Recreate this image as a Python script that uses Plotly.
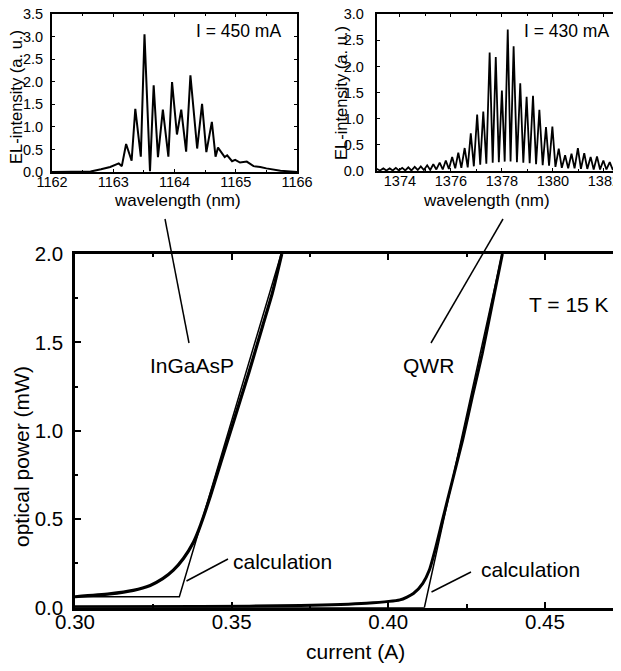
import plotly.graph_objects as go

W, H = 621, 671
# the page body has an 8 px default margin; positions below are given in
# window pixels and converted to figure paper coordinates with this offset
OX, OY = 8, 8
FONT = "Liberation Sans, Arial, Helvetica, sans-serif"

# ---------------- data ----------------
# Inset 1: InGaAsP spectrum at I = 450 mA
ingaasp_wl = [1162.0, 1162.5, 1162.63, 1162.8, 1162.95, 1163.09, 1163.14, 1163.21, 1163.30,
              1163.36, 1163.45, 1163.51, 1163.60, 1163.66, 1163.73, 1163.81, 1163.90,
              1163.96, 1164.04, 1164.11, 1164.19, 1164.26, 1164.37, 1164.45, 1164.52,
              1164.61, 1164.67, 1164.71, 1164.82, 1164.86, 1164.94, 1164.99, 1165.07,
              1165.18, 1165.29, 1165.40, 1165.50, 1165.73, 1166.0]
ingaasp_int = [0.0, 0.0, 0.01, 0.06, 0.11, 0.19, 0.13, 0.62, 0.25,
               1.40, 0.34, 3.05, 0.02, 1.92, 0.33, 1.38, 0.34,
               1.99, 0.83, 1.38, 0.45, 2.14, 0.52, 1.51, 0.44,
               1.11, 0.34, 0.54, 0.33, 0.37, 0.24, 0.27, 0.21,
               0.23, 0.13, 0.11, 0.08, 0.03, 0.0]

# Inset 2: QWR spectrum at I = 430 mA (peaks and valleys)
qwr_wl = [1373.00, 1373.10, 1373.22, 1373.35, 1373.47, 1373.60, 1373.72, 1373.84, 1373.96,
          1374.09, 1374.21, 1374.33, 1374.45, 1374.58, 1374.70, 1374.82, 1374.94,
          1375.07, 1375.19, 1375.31, 1375.43, 1375.56, 1375.68, 1375.80, 1375.92,
          1376.05, 1376.17, 1376.29, 1376.41, 1376.54, 1376.66, 1376.78, 1376.90,
          1377.03, 1377.15, 1377.27, 1377.39, 1377.52, 1377.64, 1377.76, 1377.88,
          1378.00, 1378.11, 1378.23, 1378.34, 1378.46, 1378.59, 1378.72, 1378.84,
          1378.97, 1379.09, 1379.22, 1379.34, 1379.47, 1379.60, 1379.73, 1379.85,
          1379.98, 1380.10, 1380.23, 1380.35, 1380.48, 1380.60, 1380.73, 1380.85,
          1380.98, 1381.10, 1381.23, 1381.35, 1381.48, 1381.60, 1381.73, 1381.85,
          1381.98, 1382.10, 1382.23, 1382.35, 1382.47, 1382.60, 1382.72, 1382.85]
qwr_int = [0.01, 0.04, 0.01, 0.05, 0.01, 0.05, 0.01, 0.06, 0.01,
           0.06, 0.01, 0.07, 0.01, 0.08, 0.02, 0.09, 0.02,
           0.11, 0.02, 0.13, 0.03, 0.16, 0.03, 0.20, 0.04,
           0.27, 0.05, 0.35, 0.06, 0.44, 0.07, 0.72, 0.09,
           1.08, 0.12, 1.14, 0.14, 2.27, 0.16, 2.18, 0.17,
           1.54, 0.18, 2.71, 0.18, 2.39, 0.17, 1.68, 0.16,
           1.42, 0.15, 1.44, 0.13, 1.17, 0.11, 0.84, 0.10,
           0.85, 0.08, 0.43, 0.06, 0.30, 0.05, 0.33, 0.05,
           0.44, 0.04, 0.34, 0.04, 0.27, 0.03, 0.28, 0.03,
           0.20, 0.03, 0.17, 0.02, 0.15, 0.02, 0.12, 0.02]

# Main panel: light-current characteristics at T = 15 K
ingaasp_meas_I = [0.300, 0.311, 0.3186, 0.324, 0.328, 0.3314, 0.3346, 0.3378, 0.3395,
                  0.343, 0.3465, 0.3511, 0.3555, 0.3600, 0.3630, 0.3660]
ingaasp_meas_P = [0.062, 0.078, 0.098, 0.126, 0.164, 0.212, 0.278, 0.37, 0.44,
                  0.62, 0.82, 1.08, 1.33, 1.60, 1.78, 2.00]
ingaasp_calc_I = [0.300, 0.3333, 0.3658]
ingaasp_calc_P = [0.062, 0.062, 2.00]

qwr_meas_I = [0.300, 0.340, 0.372, 0.393, 0.4037, 0.408, 0.411, 0.4131, 0.4152,
              0.4173, 0.4205, 0.4237, 0.4268, 0.4300, 0.4332, 0.4364]
qwr_meas_P = [0.005, 0.007, 0.012, 0.025, 0.044, 0.08, 0.138, 0.213, 0.345,
              0.496, 0.722, 0.948, 1.193, 1.439, 1.72, 2.00]
qwr_calc_I = [0.300, 0.4115, 0.4363]
qwr_calc_P = [0.0, 0.0, 2.00]

main_xticks = [0.30, 0.35, 0.40, 0.45]
main_xticklabels = ["0.30", "0.35", "0.40", "0.45"]
main_yticks = [0.0, 0.5, 1.0, 1.5, 2.0]
main_yticklabels = ["0.0", "0.5", "1.0", "1.5", "2.0"]
inset2_xticks = [1374, 1376, 1378, 1380, 1382]


# ---------------- helpers (window pixel -> paper) ----------------
def px(x):
    return (x - OX) / W


def py(y):
    return 1 - (y - OY) / H


fig = go.Figure()

fig.add_trace(go.Scatter(x=ingaasp_wl, y=ingaasp_int, mode="lines",
                         line=dict(color="black", width=2), xaxis="x2", yaxis="y2",
                         showlegend=False))
fig.add_trace(go.Scatter(x=qwr_wl, y=qwr_int, mode="lines",
                         line=dict(color="black", width=1.8), xaxis="x3", yaxis="y3",
                         showlegend=False))

fig.add_trace(go.Scatter(x=ingaasp_calc_I, y=ingaasp_calc_P, mode="lines",
                         line=dict(color="black", width=1.5), showlegend=False))
fig.add_trace(go.Scatter(x=ingaasp_meas_I, y=ingaasp_meas_P, mode="lines",
                         line=dict(color="black", width=3.2, shape="spline", smoothing=0.6),
                         showlegend=False))
fig.add_trace(go.Scatter(x=qwr_calc_I, y=qwr_calc_P, mode="lines",
                         line=dict(color="black", width=1.5), showlegend=False))
fig.add_trace(go.Scatter(x=qwr_meas_I, y=qwr_meas_P, mode="lines",
                         line=dict(color="black", width=3, shape="spline", smoothing=0.6),
                         showlegend=False))

tickfont_main = dict(family=FONT, size=20.5, color="black")
tickfont_inset = dict(family=FONT, size=14.5, color="black")

common = dict(automargin=False, showgrid=False, zeroline=False, tickcolor="black",
              ticklabeloverflow="allow")

fig.update_layout(
    width=W, height=H,
    autosize=False,
    margin=dict(l=0, r=0, t=0, b=0, pad=0, autoexpand=False),
    paper_bgcolor="white", plot_bgcolor="white",
    font=dict(family=FONT, color="black"),
    xaxis=dict(domain=[px(75), px(623)], range=[0.30, 0.4749], tickvals=main_xticks,
               ticktext=main_xticklabels, ticks="inside", ticklen=6, tickwidth=1.5,
               showline=True, linewidth=2.5, linecolor="black",
               mirror="ticks", tickfont=tickfont_main, ticklabelstandoff=-6,
               minor=dict(dtick=0.025, tick0=0.30, ticks="inside", ticklen=3.5,
                          tickwidth=1.5, tickcolor="black", showgrid=False), **common),
    yaxis=dict(domain=[py(607.7), py(254)], range=[0, 2.0], tickvals=main_yticks,
               ticktext=main_yticklabels, ticks="inside", ticklen=6, tickwidth=1.5,
               showline=True, linewidth=2.5, linecolor="black",
               tickfont=tickfont_main, ticklabelstandoff=5,
               minor=dict(dtick=0.25, tick0=0, ticks="inside", ticklen=3.5,
                          tickwidth=1.5, tickcolor="black", showgrid=False), **common),
    yaxis4=dict(overlaying="y", side="right", anchor="x", range=[0, 2.0],
                tickvals=main_yticks, ticks="inside", ticklen=6, tickwidth=1.5,
                showticklabels=False, showline=False,
                minor=dict(dtick=0.25, tick0=0, ticks="inside", ticklen=3.5,
                           tickwidth=1.5, tickcolor="black", showgrid=False), **common),
    xaxis2=dict(domain=[px(52), px(297)], anchor="y2", range=[1162, 1166], dtick=1,
                ticks="inside", ticklen=3, showline=True,
                linewidth=2, linecolor="black", mirror="ticks", tickfont=tickfont_inset,
                ticklabelstandoff=-4,
                minor=dict(dtick=0.5, ticks="inside", ticklen=2, tickcolor="black"),
                **common),
    yaxis2=dict(domain=[py(172), py(14)], anchor="x2", range=[0, 3.5], dtick=0.5,
                tickformat=".1f", ticks="inside", ticklen=3,
                showline=True, linewidth=2, linecolor="black", mirror="ticks",
                tickfont=tickfont_inset, ticklabelstandoff=4, **common),
    xaxis3=dict(domain=[px(376.7), px(623)], anchor="y3", range=[1373.09, 1382.75],
                tickvals=inset2_xticks, ticks="inside", ticklen=3,
                showline=True, linewidth=2, linecolor="black",
                mirror="ticks", tickfont=tickfont_inset, ticklabelstandoff=-4,
                minor=dict(dtick=1, ticks="inside", ticklen=2, tickcolor="black"),
                **common),
    yaxis3=dict(domain=[py(171), py(14.3)], anchor="x3", range=[0, 3.0], dtick=0.5,
                tickformat=".1f", ticks="inside", ticklen=3,
                showline=True, linewidth=2, linecolor="black",
                tickfont=tickfont_inset, ticklabelstandoff=8, **common),
    yaxis5=dict(overlaying="y3", side="right", anchor="x3", range=[0, 3.0], dtick=0.5,
                ticks="inside", ticklen=3, showticklabels=False,
                showline=False, **common),
)


# ---------------- text ----------------
def label(text, x, y, size, angle=0):
    fig.add_annotation(text=text, x=px(x), y=py(y), xref="paper", yref="paper",
                       showarrow=False, xanchor="center", yanchor="middle",
                       textangle=angle, font=dict(family=FONT, size=size, color="black"))


label("current (A)", 355, 651, 21)
label("optical power (mW)", 21, 457, 21, -90)
label("wavelength (nm)", 177.5, 200, 17)
label("EL-intensity (a. u.)", 16, 97, 16.5, -90)
label("wavelength (nm)", 486, 200, 17)
label("EL-intensity (a. u.)", 341, 93, 16.5, -90)
label("I = 450 mA", 238, 31, 17.5)
label("I = 430 mA", 566.5, 31, 17.5)
label("T = 15 K", 569, 304, 21)
label("InGaAsP", 191.5, 365, 21)
label("QWR", 428.5, 365, 21)
label("calculation", 282, 561, 21)
label("calculation", 530, 569, 21)


# ---------------- pointer lines ----------------
def pline(x0, y0, x1, y1):
    fig.add_shape(type="line", xref="paper", yref="paper",
                  x0=px(x0), y0=py(y0), x1=px(x1), y1=py(y1),
                  line=dict(color="black", width=1.5))


pline(165, 219, 189, 343)
pline(503, 219, 431, 343)
pline(186.5, 581, 228, 559)
pline(431.5, 592, 471, 572)

fig.write_html("out.html")
